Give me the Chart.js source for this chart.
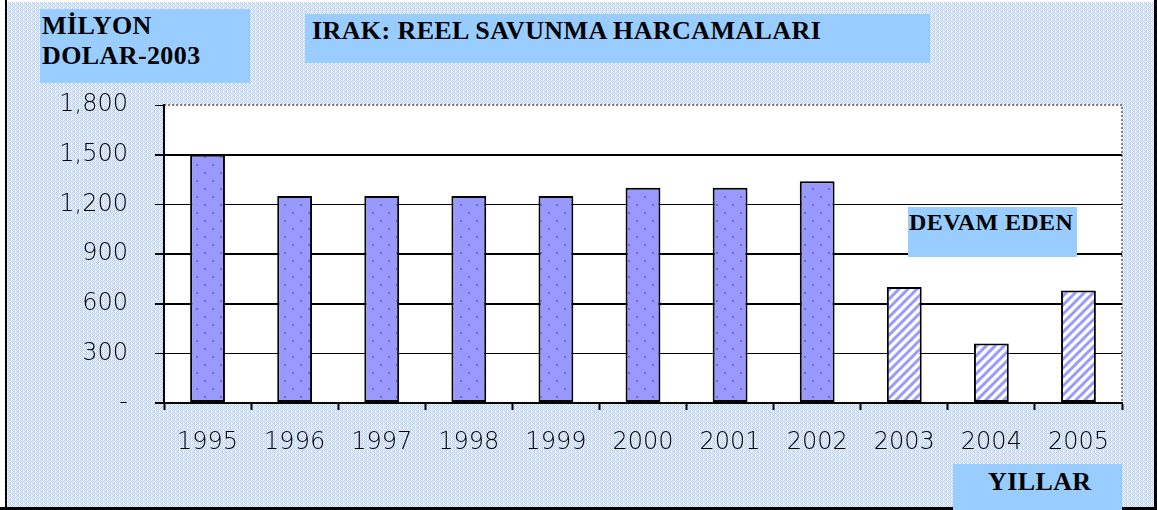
<!DOCTYPE html>
<html>
<head>
<meta charset="utf-8">
<script src="https://cdn.jsdelivr.net/npm/chart.js@4/dist/chart.umd.min.js"></script>
<style>
  html, body { margin: 0; padding: 0; background: #ffffff; }
  #wrap { position: relative; width: 1157px; height: 510px; overflow: hidden; }
  canvas { position: absolute; left: 0; top: 0; }
  .box { position: absolute; background: #99CCFF; font-family: "Liberation Serif", "Times New Roman", serif; font-weight: bold; color: #000; white-space: nowrap; letter-spacing: 0.4px; }
</style>
</head>
<body>
<div id="wrap">
  <canvas id="c" width="1157" height="510"></canvas>
  <div class="box" style="left:40px;top:9px;width:210px;height:74px;font-size:26px;line-height:30px;">
    <div style="position:absolute;left:2px;top:2px;">MİLYON<br>DOLAR-2003</div>
  </div>
  <div class="box" style="left:305px;top:14px;width:625px;height:49px;font-size:26px;line-height:30px;">
    <div style="position:absolute;left:7px;top:2px;">IRAK: REEL SAVUNMA HARCAMALARI</div>
  </div>
  <div class="box" style="left:908px;top:207px;width:169px;height:50px;font-size:24px;line-height:28px;">
    <div style="position:absolute;left:1px;top:1px;">DEVAM EDEN</div>
  </div>
  <div class="box" style="left:953px;top:464px;width:169px;height:46px;font-size:26px;line-height:30px;">
    <div style="position:absolute;left:35px;top:3px;">YILLAR</div>
  </div>
</div>
<script>
// ---- data ----
const years = ['1995','1996','1997','1998','1999','2000','2001','2002','2003','2004','2005'];
const spending = [1500, 1250, 1250, 1250, 1250, 1300, 1300, 1340, 700, 360, 680];
const ongoing = [false, false, false, false, false, false, false, false, true, true, true];
const yTicks = [0, 300, 600, 900, 1200, 1500, 1800];

// ---- patterns ----
function makeDotPattern() {
  const c = document.createElement('canvas'); c.width = 16; c.height = 16;
  const g = c.getContext('2d');
  g.fillStyle = '#9999FF'; g.fillRect(0, 0, 16, 16);
  g.fillStyle = '#6666EE';
  g.fillRect(4, 4, 2, 2); g.fillRect(12, 12, 2, 2);
  return g.createPattern(c, 'repeat');
}
function makeHatchPattern() {
  const c = document.createElement('canvas'); c.width = 9; c.height = 9;
  const g = c.getContext('2d');
  g.fillStyle = '#ffffff'; g.fillRect(0, 0, 9, 9);
  g.strokeStyle = '#9999FF'; g.lineWidth = 3;
  g.beginPath();
  g.moveTo(-2, 11); g.lineTo(11, -2);
  g.moveTo(-11, 11); g.lineTo(2, -2);
  g.moveTo(7, 11); g.lineTo(20, -2);
  g.stroke();
  return g.createPattern(c, 'repeat');
}
function makeBgPattern() {
  const c = document.createElement('canvas'); c.width = 4; c.height = 4;
  const g = c.getContext('2d');
  const cols = [
    ['#C4C4F8', '#DDFFFF', '#C4C4F8', '#FFFFFF'],
    ['#DDFFFF', '#CFCFE6', '#DDFFFF', '#C4C4F8'],
    ['#C4C4F8', '#FFFFFF', '#C4C4F8', '#DDFFFF'],
    ['#DDFFFF', '#C4C4F8', '#D8D8D8', '#CCFFFF']
  ];
  for (let y = 0; y < 4; y++) for (let x = 0; x < 4; x++) { g.fillStyle = cols[y][x]; g.fillRect(x, y, 1, 1); }
  return g.createPattern(c, 'repeat');
}
const dotPat = makeDotPattern();
const hatchPat = makeHatchPattern();
const bgPat = makeBgPattern();

const thick = new Set([0, 600, 900, 1500]);

const decor = {
  id: 'decor',
  beforeDraw(chart) {
    const { ctx, chartArea: a } = chart;
    ctx.save();
    ctx.fillStyle = bgPat;
    ctx.fillRect(7, 2, 1147, 505);
    ctx.fillStyle = '#ffffff';
    ctx.fillRect(a.left, a.top, a.right - a.left, a.bottom - a.top);
    ctx.strokeStyle = '#808080';
    ctx.lineWidth = 2;
    ctx.setLineDash([2, 2]);
    ctx.beginPath();
    ctx.moveTo(a.left, a.top); ctx.lineTo(a.right, a.top); ctx.lineTo(a.right, a.bottom);
    ctx.stroke();
    ctx.restore();
  },
  afterDraw(chart) {
    const { ctx } = chart;
    ctx.save();
    ctx.fillStyle = '#000';
    ctx.fillRect(5, 0, 2, 510);
    ctx.fillRect(1154, 0, 3, 510);
    ctx.fillRect(0, 507, 1157, 3);
    ctx.restore();
  }
};

new Chart(document.getElementById('c'), {
  type: 'bar',
  data: {
    labels: years,
    datasets: [{
      data: spending,
      backgroundColor: ongoing.map(o => o ? hatchPat : dotPat),
      borderColor: '#000000',
      borderWidth: 2,
      borderSkipped: false,
      barPercentage: 0.4,
      categoryPercentage: 1.0
    }]
  },
  options: {
    responsive: false,
    animation: false,
    events: [],
    layout: { padding: { top: 105, right: 35, left: 0, bottom: 0 } },
    plugins: { legend: { display: false }, tooltip: { enabled: false }, title: { display: false } },
    scales: {
      x: {
        afterFit(s) { s.height = 107; },
        grid: { drawOnChartArea: false, drawTicks: true, tickLength: 7, tickColor: '#000', tickWidth: 2, offset: true },
        border: { display: true, color: '#000', width: 2 },
        ticks: { color: '#000', font: { family: 'DejaVu Sans', size: 24, weight: '300' }, padding: 18, maxRotation: 0, autoSkip: false }
      },
      y: {
        min: 0, max: 1800,
        afterFit(s) { s.width = 164; },
        afterBuildTicks(s) { s.ticks = yTicks.map(v => ({ value: v })); },
        grid: {
          color: (c) => c.tick && c.tick.value === 1800 ? 'rgba(0,0,0,0)' : '#000',
          lineWidth: (c) => c.tick && thick.has(c.tick.value) ? 2 : 1,
          tickColor: '#000',
          tickWidth: (c) => c.tick && thick.has(c.tick.value) ? 2 : 1,
          tickLength: 9
        },
        border: { display: true, color: '#000', width: 2 },
        ticks: {
          color: '#000',
          padding: 27,
          font: { family: 'DejaVu Sans', size: 24, weight: '300' },
          callback: (v) => v === 0 ? '-' : Number(v).toLocaleString('en-US')
        }
      }
    }
  },
  plugins: [decor]
});
</script>
</body>
</html>
